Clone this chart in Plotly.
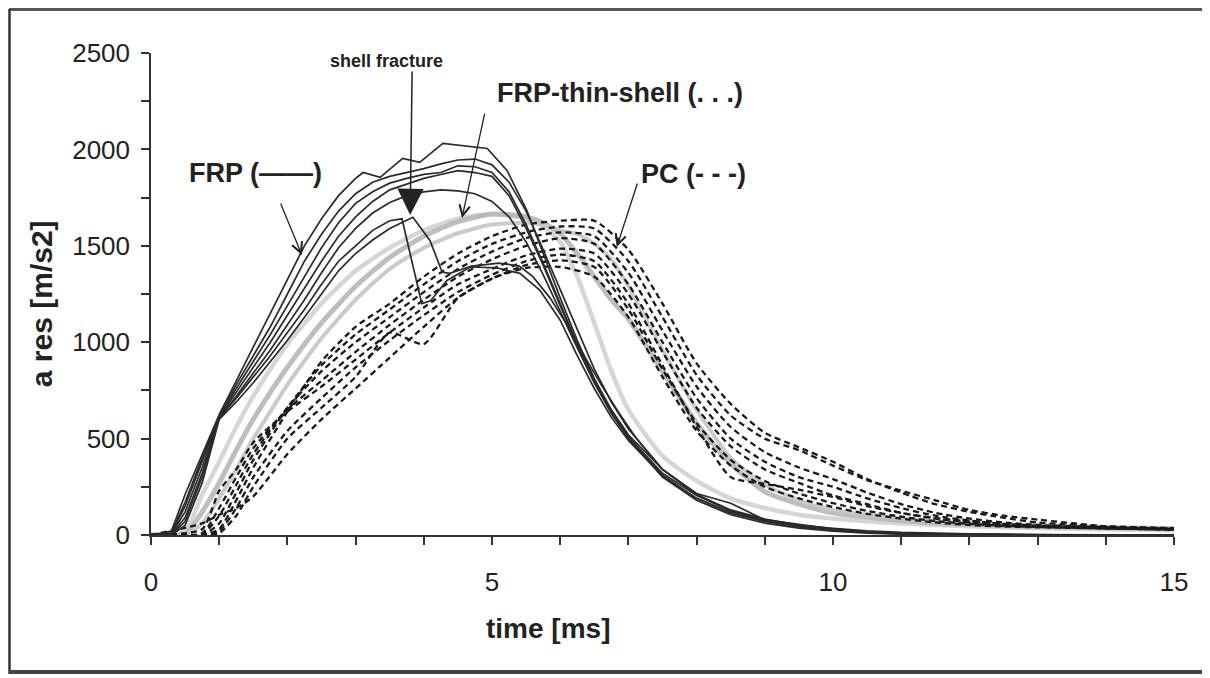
import plotly.graph_objects as go

# ---------------- data ----------------
# FRP (solid) curves on a shared time grid
t_frp = [0, 0.3, 0.5, 0.75, 1.0, 1.25, 1.5, 1.75, 2.0, 2.25, 2.5, 2.75, 3.0, 3.25, 3.5, 3.75, 4.0,
         4.25, 4.5, 4.75, 5.0, 5.25, 5.5, 5.75, 6.0, 6.25, 6.5, 6.75, 7.0, 7.5, 8.0, 8.5, 9.0, 9.5,
         10.0, 10.5, 11.0, 12.0, 13.0, 14.0, 15.0]
frp_b = [0, 10, 170, 400, 615, 780, 930, 1080, 1250, 1420, 1560, 1680, 1770, 1830, 1860, 1880, 1900,
         1925, 1945, 1950, 1920, 1830, 1680, 1480, 1270, 1060, 860, 690, 550, 340, 210, 125, 75, 45,
         25, 14, 7, 2, 0, 0, 0]
frp_c = [0, 8, 150, 380, 612, 760, 900, 1040, 1190, 1340, 1490, 1620, 1720, 1780, 1825, 1850, 1870,
         1880, 1915, 1910, 1880, 1780, 1610, 1410, 1200, 990, 810, 650, 520, 340, 215, 165, 78, 45,
         28, 15, 8, 3, 0, 0, 0]
frp_d = [0, 5, 120, 350, 610, 740, 870, 1000, 1140, 1280, 1420, 1550, 1650, 1730, 1790, 1820, 1850,
         1870, 1890, 1880, 1860, 1760, 1590, 1400, 1190, 980, 790, 630, 500, 310, 190, 115, 72, 50,
         35, 22, 14, 6, 2, 0, 0]
frp_e = [0, 3, 90, 320, 608, 720, 840, 960, 1090, 1220, 1360, 1490, 1590, 1670, 1725, 1760, 1780,
         1790, 1785, 1770, 1730, 1650, 1520, 1350, 1160, 970, 790, 640, 510, 320, 205, 125, 78, 55,
         32, 18, 10, 4, 1, 0, 0]
# FRP curve with the highest peak (own time points for its kinks)
t_frp_a = [0, 0.3, 0.5, 0.75, 1.0, 1.25, 1.5, 1.75, 2.0, 2.25, 2.5, 2.75, 3.0, 3.11, 3.36, 3.69, 3.94,
           4.28, 4.93, 5.22, 5.51, 5.75, 6.0, 6.25, 6.5, 6.75, 7.0, 7.5, 8.0, 8.5, 9.0, 9.5, 10.0,
           10.5, 11.0, 12.0, 13.0, 14.0, 15.0]
frp_a = [0, 20, 210, 420, 625, 800, 975, 1150, 1330, 1500, 1640, 1760, 1850, 1880, 1855, 1953, 1933,
         2031, 2005, 1891, 1684, 1460, 1230, 1010, 810, 640, 500, 300, 180, 105, 62, 36, 20,
         10, 5, 1, 0, 0, 0]
# FRP curves with the shell fracture drop
t_frp_f = [0, 0.3, 0.5, 0.75, 1.0, 1.25, 1.5, 1.75, 2.0, 2.25, 2.5, 2.75, 3.0, 3.25, 3.5, 3.68, 3.97,
           4.1, 4.34, 4.68, 5.07, 5.41, 5.7, 6.0, 6.25, 6.5, 6.75, 7.0, 7.5, 8.0, 8.5, 9.0, 9.5,
           10.0, 10.5, 11.0, 12.0, 13.0, 14.0, 15.0]
frp_f = [0, 2, 70, 300, 606, 710, 820, 930, 1050, 1170, 1300, 1420, 1500, 1580, 1630, 1640, 1200,
         1215, 1320, 1390, 1385, 1357, 1270, 1114, 930, 760, 610, 490, 305, 190, 115, 70, 42,
         24, 13, 6, 2, 0, 0, 0]
t_frp_g = [0, 0.3, 0.5, 0.75, 1.0, 1.25, 1.5, 1.75, 2.0, 2.25, 2.5, 2.75, 3.0, 3.25, 3.5, 3.84, 4.09,
           4.27, 4.38, 4.7, 5.1, 5.4, 5.6, 5.85, 6.1, 6.35, 6.6, 6.85, 7.1, 7.5, 8.0, 8.5, 9.0,
           9.5, 10.0, 10.5, 11.0, 12.0, 13.0, 14.0, 15.0]
frp_g = [0, 1, 50, 270, 600, 690, 790, 900, 1010, 1130, 1250, 1370, 1460, 1530, 1590, 1648, 1528,
         1363, 1357, 1395, 1410, 1395, 1340, 1230, 1090, 930, 780, 640, 510, 340, 210, 130, 82,
         52, 30, 16, 8, 3, 0, 0, 0]

# FRP-thin-shell (dotted, scanned as grey bands)
t_thin = [0, 0.5, 0.75, 1.0, 1.25, 1.5, 1.75, 2.0, 2.5, 3.0, 3.5, 4.0, 4.5, 5.0, 5.5, 5.75, 6.0,
          6.25, 6.5, 6.75, 7.0, 7.5, 8.0, 8.5, 9.0, 9.5, 10.0, 11.0, 12.0, 13.0, 14.0, 15.0]
thin_1 = [0, 20, 210, 380, 560, 720, 860, 990, 1200, 1370, 1490, 1580, 1640, 1665, 1640, 1600, 1520,
          1340, 1100, 850, 650, 410, 280, 190, 140, 105, 85, 60, 45, 35, 30, 25]
thin_2 = [0, 5, 120, 270, 440, 600, 740, 870, 1100, 1290, 1440, 1550, 1625, 1665, 1650, 1620, 1565,
          1460, 1340, 1220, 1120, 850, 580, 370, 225, 160, 115, 75, 55, 45, 38, 32]
thin_3 = [0, 0, 60, 190, 340, 500, 640, 780, 1020, 1220, 1380, 1490, 1565, 1610, 1620, 1610, 1580,
          1560, 1510, 1430, 1290, 960, 650, 400, 260, 180, 130, 85, 60, 48, 40, 35]

# PC (dashed)
t_pc = [0, 0.75, 1.0, 1.25, 1.5, 2.0, 2.5, 3.0, 3.5, 4.0, 4.5, 5.0, 5.5, 6.0, 6.5, 7.0, 7.5, 8.0,
        8.5, 9.0, 9.5, 10.0, 10.5, 11.0, 11.5, 12.0, 12.5, 13.0, 14.0, 15.0]
pc_1 = [0, 0, 30, 180, 350, 640, 900, 1080, 1200, 1340, 1460, 1550, 1610, 1630, 1630, 1480, 1200, 890,
        680, 530, 455, 380, 290, 220, 160, 120, 90, 65, 45, 35]
pc_2 = [0, 0, 60, 220, 390, 660, 880, 1040, 1170, 1300, 1420, 1510, 1570, 1600, 1590, 1420, 1130, 830,
        620, 500, 440, 360, 285, 230, 180, 130, 100, 80, 45, 35]
pc_3 = [0, 5, 100, 260, 420, 660, 850, 1000, 1130, 1260, 1380, 1470, 1540, 1570, 1550, 1360, 1060, 770,
        560, 430, 350, 290, 220, 160, 115, 85, 65, 52, 40, 32]
pc_4 = [0, 10, 140, 300, 450, 650, 800, 950, 1090, 1220, 1340, 1430, 1500, 1540, 1510, 1300, 1000, 710,
        500, 380, 300, 250, 190, 140, 100, 75, 58, 48, 38, 32]
pc_5 = [0, 30, 230, 340, 480, 640, 770, 910, 1050, 1180, 1300, 1380, 1450, 1485, 1460, 1250, 950, 660,
        460, 340, 270, 205, 160, 115, 85, 65, 52, 45, 36, 30]
pc_6 = [0, 0, 20, 140, 300, 540, 710, 870, 1010, 1140, 1260, 1350, 1420, 1455, 1420, 1200, 880, 560,
        300, 265, 235, 197, 150, 114, 88, 70, 55, 45, 35, 28]
pc_7 = [0, 0, 10, 100, 250, 500, 660, 820, 1050, 990, 1230, 1330, 1400, 1425, 1390, 1170, 860, 580,
        390, 280, 215, 165, 125, 95, 72, 58, 48, 42, 34, 28]
pc_8 = [0, 60, 105, 140, 200, 420, 600, 760, 920, 1080, 1230, 1330, 1385, 1390, 1340, 1130, 820, 540,
        360, 250, 190, 145, 110, 85, 65, 52, 44, 40, 34, 28]

x_tick_labels = ["0", "5", "10", "15"]
y_tick_labels = ["0", "500", "1000", "1500", "2000", "2500"]

# ---------------- figure ----------------
FONT = "Liberation Sans, Arial, Helvetica, sans-serif"
fig = go.Figure()

thin_styles = [("#d2d2d2", 4.5), ("#b8b8b8", 5), ("#c6c6c6", 4)]
for y, (c, w) in zip([thin_1, thin_2, thin_3], thin_styles):
    fig.add_trace(go.Scatter(x=t_thin, y=y, mode="lines", line=dict(color=c, width=w, shape="spline", smoothing=0.6),
                             opacity=0.9, showlegend=False, hoverinfo="skip"))

for y in [pc_1, pc_2, pc_3, pc_4, pc_5, pc_6, pc_7, pc_8]:
    fig.add_trace(go.Scatter(x=t_pc, y=y, mode="lines",
                             line=dict(color="#1a1a1a", width=2.3, dash="6px,4px", shape="spline", smoothing=0.6),
                             showlegend=False, hoverinfo="skip"))

for y in [frp_b, frp_c, frp_d, frp_e]:
    fig.add_trace(go.Scatter(x=t_frp, y=y, mode="lines", line=dict(color="#2b2b2b", width=1.7),
                             showlegend=False, hoverinfo="skip"))
for tx, y in [(t_frp_a, frp_a), (t_frp_f, frp_f), (t_frp_g, frp_g)]:
    fig.add_trace(go.Scatter(x=tx, y=y, mode="lines", line=dict(color="#2b2b2b", width=1.7),
                             showlegend=False, hoverinfo="skip"))

axis_common = dict(showgrid=False, zeroline=False, showline=True, linecolor="#333", linewidth=1.5,
                   ticks="outside", ticklen=8, tickwidth=1.5, tickcolor="#333",
                   tickfont=dict(family=FONT, size=26, color="#222"))
fig.update_xaxes(range=[0, 15], tickvals=[0, 5, 10, 15], ticktext=x_tick_labels,
                 minor=dict(dtick=1, tick0=0, ticks="outside", ticklen=8, tickwidth=1.5, tickcolor="#333"),
                 ticklabelstandoff=15, **axis_common)
fig.update_yaxes(range=[0, 2500], tickvals=[0, 500, 1000, 1500, 2000, 2500], ticktext=y_tick_labels,
                 minor=dict(dtick=250, tick0=0, ticks="outside", ticklen=8, tickwidth=1.5, tickcolor="#333"),
                 ticklabelstandoff=6, **axis_common)

lab = dict(family=FONT, size=27, color="#222")
annotations = [
    dict(text="<b>time [ms]</b>", xref="paper", yref="paper", x=0.388, y=-0.193, showarrow=False,
         font=dict(family=FONT, size=28, color="#222"), xanchor="center", yanchor="middle"),
    dict(text="<b>a res [m/s2]</b>", xref="paper", yref="paper", x=-0.1075, y=0.479, showarrow=False,
         font=dict(family=FONT, size=30, color="#222"), textangle=-90, xanchor="center", yanchor="middle"),
    dict(text="<b>FRP (——)</b>", x=1.525, y=1878, showarrow=False, font=lab),
    dict(text="<b>shell fracture</b>", x=3.46, y=2458, showarrow=False, font=dict(family=FONT, size=18, color="#222")),
    dict(text="<b>FRP-thin-shell (. . .)</b>", x=6.88, y=2293, showarrow=False, font=lab),
    dict(text="<b>PC (- - -)</b>", x=7.96, y=1872, showarrow=False, font=lab),
    # arrows
    dict(text="", x=2.214, y=1452, ax=-22, ay=-53, showarrow=True, arrowhead=5, arrowsize=1.6,
         arrowwidth=1.3, arrowcolor="#222"),
    dict(text="", x=3.80, y=1660, ax=2, ay=-145, showarrow=True, arrowhead=2, arrowsize=3.5,
         arrowwidth=1.5, arrowcolor="#222"),
    dict(text="", x=4.56, y=1644, ax=23, ay=-106, showarrow=True, arrowhead=5, arrowsize=1.6,
         arrowwidth=1.3, arrowcolor="#222"),
    dict(text="", x=6.83, y=1494, ax=21, ay=-65, showarrow=True, arrowhead=5, arrowsize=1.6,
         arrowwidth=1.3, arrowcolor="#222"),
]

# page offset: the html body has an 8 px margin, so figure coords = screen coords - 8
W, H = 1202, 670
OFF = 8
pl, pr, pt, pb = 151 - OFF, 1174 - OFF, 53 - OFF, 535 - OFF


def px(xp):
    return (xp - OFF - pl) / (pr - pl)


def py(yp):
    return (pb - (yp - OFF)) / (pb - pt)


# outer frame of the scanned figure (screen coordinates)
shapes = [
    dict(type="line", xref="paper", yref="paper", x0=px(9), x1=px(1209), y0=py(9.5), y1=py(9.5),
         line=dict(color="#555", width=3)),
    dict(type="line", xref="paper", yref="paper", x0=px(9.5), x1=px(9.5), y0=py(9), y1=py(674),
         line=dict(color="#333", width=2.5)),
    dict(type="line", xref="paper", yref="paper", x0=px(9), x1=px(1209), y0=py(672), y1=py(672),
         line=dict(color="#444", width=4)),
    dict(type="line", xref="paper", yref="paper", x0=px(1205), x1=px(1205), y0=py(9), y1=py(674),
         line=dict(color="#e2e2e2", width=1.5)),
]

fig.update_layout(width=W, height=H, margin=dict(l=pl, r=W - pr, t=pt, b=H - pb),
                  paper_bgcolor="white", plot_bgcolor="white", annotations=annotations, shapes=shapes,
                  font=dict(family=FONT))

fig.write_html("out.html")
